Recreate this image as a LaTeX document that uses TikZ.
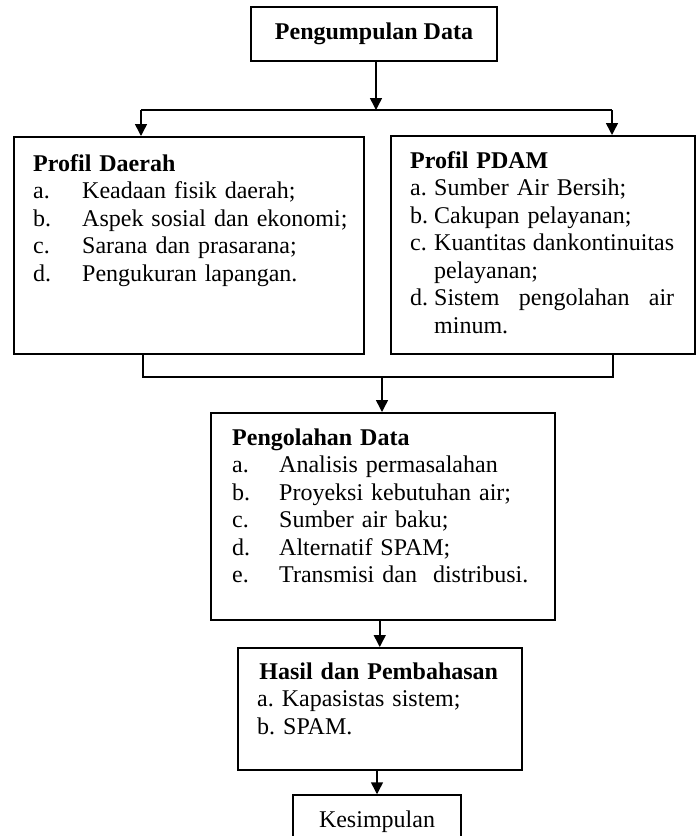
\documentclass[tikz,border=0pt]{standalone}
\usepackage{fontspec}
\setmainfont{Liberation Serif}
\usetikzlibrary{arrows.meta,calc}

\tikzset{
  box/.style={draw, line width=1.5pt, inner sep=0pt, font=\fontsize{24}{27.5}\selectfont},
  txt/.style={anchor=north west, inner sep=0pt, align=left, text width=#1,
    font=\fontsize{24}{27.5}\selectfont\frenchspacing},
  link/.style={line width=1.5pt},
  arr/.style={line width=1.5pt, -{Triangle[length=12pt,width=12pt]}},
}
\newcommand{\lbl}[2]{\makebox[#1][l]{#2}}

\begin{document}
\begin{tikzpicture}[x=1pt, y=-1pt]
  \useasboundingbox (0,0) rectangle (696,836);

  % boxes
  \node[box, minimum width=246pt, minimum height=54pt] (kumpul) at (374,34) {\textbf{Pengumpulan Data}};
  \node[box, anchor=north west, minimum width=350pt, minimum height=217pt] (daerah) at (13,136) {};
  \node[box, anchor=north west, minimum width=304pt, minimum height=218pt] (pdam) at (390,135) {};
  \node[box, anchor=north west, minimum width=344pt, minimum height=207pt] (olah) at (210,412) {};
  \node[box, anchor=north west, minimum width=284pt, minimum height=122pt] (hasil) at (237,647) {};
  \node[box, minimum width=168pt, minimum height=54pt] (simpul) at (377,822) {Kesimpulan};

  % box texts
  \node[txt=330pt] (tdaerah) at (33,151.75) {\strut\textbf{Profil Daerah}\\
    \lbl{49pt}{a.}Keadaan fisik daerah;\\
    \lbl{49pt}{b.}Aspek sosial dan ekonomi;\\
    \lbl{49pt}{c.}Sarana dan prasarana;\\
    \lbl{49pt}{d.}Pengukuran lapangan.};
  \node[txt=270pt] (tpdam) at (410,148.75) {\strut\textbf{Profil PDAM}\\
    \lbl{24pt}{a.}Sumber Air Bersih;\\
    \lbl{24pt}{b.}Cakupan pelayanan;\\
    \lbl{24pt}{c.}\makebox[240pt][s]{Kuantitas\hfill dankontinuitas}\\
    \hspace*{24pt}pelayanan;\\
    \lbl{24pt}{d.}\makebox[240pt][s]{Sistem\hfill pengolahan\hfill air}\\
    \hspace*{24pt}minum.};
  \node[txt=320pt] (tolah) at (232,425.75) {\strut\textbf{Pengolahan Data}\\
    \lbl{47pt}{a.}Analisis permasalahan\\
    \lbl{47pt}{b.}Proyeksi kebutuhan air;\\
    \lbl{47pt}{c.}Sumber air baku;\\
    \lbl{47pt}{d.}Alternatif SPAM;\\
    \lbl{47pt}{e.}Transmisi dan\ \ distribusi.};
  \node[txt=243pt] (thasil) at (257,659.75) {\strut\makebox[243pt][c]{\textbf{Hasil dan Pembahasan}}\\
    a. Kapasistas sistem;\\
    b. SPAM.};

  % connectors
  \coordinate (cabang) at (376,110);
  \coordinate (kiri) at (141,110);
  \coordinate (kanan) at (612,110);
  \draw[arr] (kumpul.south -| cabang) -- (cabang);
  \draw[link] (kiri) -- (kanan);
  \draw[arr] (kiri) -- (kiri |- daerah.north);
  \draw[arr] (kanan) -- (kanan |- pdam.north);

  \coordinate (gkiri) at (143,377);
  \coordinate (gkanan) at (613,377);
  \coordinate (gabung) at (382,377);
  \draw[link] (gkiri |- daerah.south) -- (gkiri) -- (gkanan) -- (gkanan |- pdam.south);
  \draw[arr] (gabung) -- (gabung |- olah.north);

  \draw[arr] (hasil.north |- olah.south) -- (hasil.north);
  \draw[arr] (simpul.north |- hasil.south) -- (simpul.north);
\end{tikzpicture}
\end{document}
